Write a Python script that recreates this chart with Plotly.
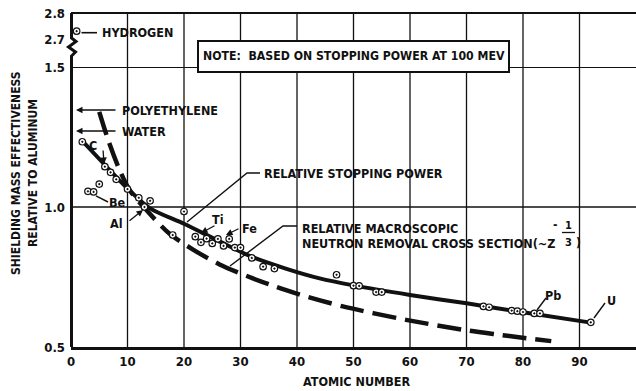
import plotly.graph_objects as go

# ---------------- data ----------------
hydrogen_z = [1]
hydrogen_v = [2.73]

elem_z = [2, 3, 4, 5, 6, 7, 8, 10, 12, 13, 14, 18, 20, 22, 23, 24, 25, 26, 27, 28,
          29, 30, 32, 34, 36, 47, 50, 51, 54, 55, 73, 74, 78, 79, 80, 82, 83, 92]
elem_v = [1.233, 1.056, 1.054, 1.082, 1.144, 1.124, 1.099, 1.064, 1.033, 1.000,
          1.022, 0.900, 0.984, 0.894, 0.874, 0.887, 0.870, 0.886, 0.861, 0.886,
          0.855, 0.855, 0.818, 0.787, 0.780, 0.758, 0.719, 0.718, 0.696, 0.696,
          0.645, 0.642, 0.630, 0.628, 0.625, 0.620, 0.620, 0.588]

stop_z = [2, 6, 10, 14, 20, 26, 32, 38, 44, 50, 60, 70, 80, 92]
stop_v = [1.236, 1.150, 1.066, 0.995, 0.940, 0.880, 0.822, 0.780, 0.745, 0.720,
          0.686, 0.656, 0.624, 0.587]

neut_z = [5.0, 6.7, 8.6, 10.4, 13.3, 17.4, 21.6, 26.3, 32.2, 36.3, 40.4, 48.1,
          59.3, 69.9, 75.3, 79.9, 85.0]
neut_v = [1.340, 1.232, 1.132, 1.060, 0.990, 0.905, 0.848, 0.795, 0.745, 0.715,
          0.688, 0.645, 0.597, 0.560, 0.545, 0.533, 0.521]

x_ticks = [0, 10, 20, 30, 40, 50, 60, 70, 80, 90]
y_ticks = [0.5, 1.0, 1.5]
y_tick_text = ["0.5", "1.0", "1.5"]
y2_ticks = [2.7, 2.8]
y2_tick_text = ["2.7", "2.8"]

# ---------------- layout helpers ----------------
WIDTH, HEIGHT = 636, 391
L, T, B, R = 71, 13, 44, 0
PW = WIDTH - L - R
PH = HEIGHT - T - B
BOTTOM = HEIGHT - B
SPLIT = (BOTTOM - 67) / PH  # main axis share (0.5..1.5)

FONT = "Liberation Sans Narrow, DejaVu Sans Condensed, Arial Narrow, sans-serif"
INK = "#111111"


def px(x):
    return (x - L) / PW


def py(y):
    return (BOTTOM - y) / PH


fig = go.Figure()

fig.add_trace(go.Scatter(x=stop_z, y=stop_v, mode="lines",
                         line=dict(color=INK, width=4, shape="spline", smoothing=0.8),
                         hoverinfo="skip", showlegend=False))
fig.add_trace(go.Scatter(x=neut_z, y=neut_v, mode="lines",
                         line=dict(color=INK, width=4.5, shape="spline", smoothing=0.8,
                                   dash="24px,9px"),
                         hoverinfo="skip", showlegend=False))
fig.add_trace(go.Scatter(x=elem_z, y=elem_v, mode="markers",
                         marker=dict(symbol="circle-dot", size=6.5, color="white",
                                     line=dict(color=INK, width=1.2)),
                         showlegend=False))
fig.add_trace(go.Scatter(x=hydrogen_z, y=hydrogen_v, mode="markers", xaxis="x2", yaxis="y2",
                         marker=dict(symbol="circle-dot", size=6.5, color="white",
                                     line=dict(color=INK, width=1.2)),
                         showlegend=False))

shapes = []
# vertical grid lines
for z in x_ticks[1:]:
    shapes.append(dict(type="line", xref="x", yref="paper", x0=z, x1=z, y0=0, y1=1,
                       line=dict(color=INK, width=1.3), layer="below"))
# horizontal grid at 1.0 and heavy line at 1.5
shapes.append(dict(type="line", xref="paper", yref="y", x0=0, x1=1, y0=1.0, y1=1.0,
                   line=dict(color=INK, width=1.3), layer="below"))
shapes.append(dict(type="line", xref="paper", yref="y", x0=0, x1=1, y0=1.5, y1=1.5,
                   line=dict(color=INK, width=2.2), layer="below"))
# top border
shapes.append(dict(type="line", xref="paper", yref="paper", x0=0, x1=1, y0=1, y1=1,
                   line=dict(color=INK, width=2)))
# left axis with break
brk = [(71.5, 13), (71.5, 38), (76, 41.5), (68.5, 47), (75.5, 52), (71.5, 56), (71.5, BOTTOM)]
path = "M " + " L ".join(f"{px(a):.5f},{py(b):.5f}" for a, b in brk)
shapes.append(dict(type="path", xref="paper", yref="paper", path=path,
                   line=dict(color=INK, width=3)))
# note box
shapes.append(dict(type="rect", xref="paper", yref="paper", x0=px(198), x1=px(509),
                   y0=py(72), y1=py(41), fillcolor="white", line=dict(color=INK, width=2)))
# leaders


def poly(pts, w=1.4):
    p = "M " + " L ".join(f"{px(a):.5f},{py(b):.5f}" for a, b in pts)
    return dict(type="path", xref="paper", yref="paper", path=p, line=dict(color=INK, width=w))


shapes.append(poly([(81.5, 32.7), (97, 32.7)], 1.6))
shapes.append(poly([(260, 173), (247, 173), (187, 222)]))
shapes.append(poly([(297, 226), (283, 226), (230, 266)]))
shapes.append(poly([(96, 196), (108, 202)]))
shapes.append(poly([(546, 298), (537, 310)]))
shapes.append(poly([(605, 303), (594, 318)]))
# fraction bar of Z exponent
shapes.append(poly([(562, 232.5), (575, 232.5)], 1.3))

annotations = []


def label(text, x, y, anchor="left", size=12.5):
    annotations.append(dict(text=text, x=px(x), y=py(y), xref="paper", yref="paper",
                            xanchor=anchor, yanchor="middle", showarrow=False,
                            font=dict(family=FONT, size=size, color=INK, weight="bold")))


def arrow(x_tip, y_tip, x_tail, y_tail):
    annotations.append(dict(text="", x=px(x_tip), y=py(y_tip), xref="paper", yref="paper",
                            ax=x_tail - x_tip, ay=y_tail - y_tip, showarrow=True,
                            arrowhead=2, arrowsize=1, arrowwidth=1.3, arrowcolor=INK))


label("HYDROGEN", 100, 32.5)
label("NOTE:  BASED ON STOPPING POWER AT 100 MEV", 354, 56, anchor="center", size=12.2)
label("POLYETHYLENE", 120, 110)
label("WATER", 120, 131)
label("C", 93, 145, anchor="center")
label("Be", 117, 203, anchor="center")
label("Al", 116, 223, anchor="center")
label("Ti", 218, 219, anchor="center")
label("Fe", 249, 228, anchor="center")
label("RELATIVE STOPPING POWER", 262, 173)
label("RELATIVE MACROSCOPIC", 300, 228)
label("NEUTRON REMOVAL CROSS SECTION(~Z", 300, 243)
label("-", 555, 225, anchor="center", size=12)
label("1", 568, 225, anchor="center", size=11)
label("3", 568, 242, anchor="center", size=11)
label(")", 578, 243, anchor="center", size=12)
label("Pb", 553, 295, anchor="center")
label("U", 611, 300, anchor="center")
label("ATOMIC NUMBER", 356, 381, anchor="center")

arrow(76, 110, 117, 110)
arrow(76, 131, 117, 131)
arrow(104, 164, 103, 149)
arrow(143, 210, 128, 222)
arrow(201, 233, 216, 225)
arrow(226, 235, 240, 228)

for txt, xx in [("SHIELDING MASS EFFECTIVENESS", 16), ("RELATIVE TO ALUMINUM", 33)]:
    annotations.append(dict(text=txt, x=px(xx), y=py(173), xref="paper", yref="paper",
                            xanchor="center", yanchor="middle", textangle=-90, showarrow=False,
                            font=dict(family=FONT, size=12, color=INK, weight="bold")))

tickfont = dict(family=FONT, size=13, color=INK, weight="bold")

fig.update_layout(
    width=WIDTH, height=HEIGHT,
    margin=dict(l=L, r=R, t=T, b=B, pad=0),
    paper_bgcolor="white", plot_bgcolor="white",
    showlegend=False,
    xaxis=dict(domain=[0, 1], range=[0, 100], anchor="y", tickvals=x_ticks,
               ticktext=[str(v) for v in x_ticks], showgrid=False, zeroline=False,
               showline=True, linecolor=INK, linewidth=3, ticks="", tickfont=tickfont),
    yaxis=dict(domain=[0, SPLIT], range=[0.5, 1.5], tickvals=y_ticks, ticktext=y_tick_text,
               showgrid=False, zeroline=False, showline=False, ticks="", tickfont=tickfont,
               ticklabelstandoff=5),
    xaxis2=dict(domain=[0, 1], range=[0, 100], anchor="y2", matches="x", visible=False),
    yaxis2=dict(domain=[SPLIT, 1], range=[2.8 - (67 - 13) / 260, 2.8], tickvals=y2_ticks,
                ticktext=y2_tick_text, showgrid=False, zeroline=False, showline=False,
                ticks="", tickfont=tickfont, ticklabelstandoff=5),
    shapes=shapes,
    annotations=annotations,
)

fig.write_html("out.html")
